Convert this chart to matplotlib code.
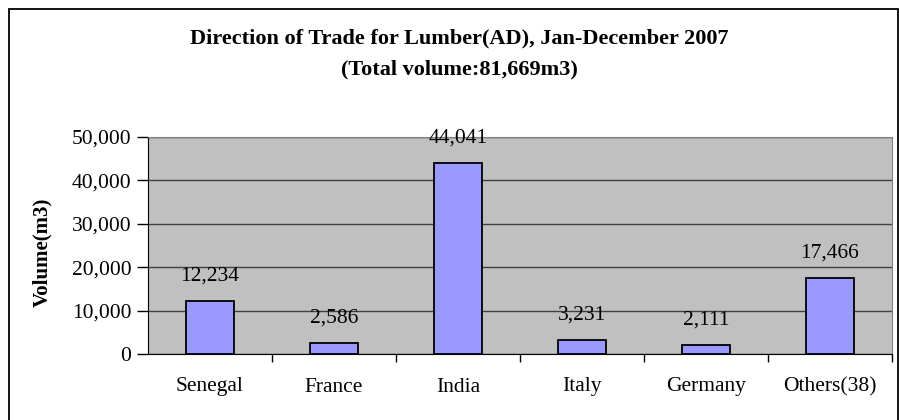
import matplotlib
matplotlib.use("Agg")
import matplotlib.pyplot as plt
from matplotlib.patches import Rectangle

plt.rcParams['font.family'] = ['Liberation Serif', 'DejaVu Serif']

categories = ['Senegal', 'France', 'India', 'Italy', 'Germany', 'Others(38)']
volumes = [12234, 2586, 44041, 3231, 2111, 17466]
yticks = [0, 10000, 20000, 30000, 40000, 50000]

W, H = 899, 420
fig = plt.figure(figsize=(W / 100, H / 100), dpi=100)
ax = fig.add_axes([148 / W, (H - 354) / H, 744 / W, 217 / H])

ax.set_facecolor('#C0C0C0')
x = range(len(categories))
ax.bar(x, volumes, width=0.39, color='#9999FF', edgecolor='black', linewidth=1.3, zorder=3)

for i, v in enumerate(volumes):
    ax.annotate(f'{v:,}', (i, v), xytext=(0, 18), textcoords='offset points',
                ha='center', va='center', fontsize=15.5, zorder=4)

ax.set_xlim(-0.5, len(categories) - 0.5)
ax.set_ylim(0, 50000)
ax.set_yticks(yticks)
ax.set_yticklabels([f'{t:,}' for t in yticks], fontsize=15.5)
ax.yaxis.grid(True, color='#404040', linewidth=1.0, zorder=1)
ax.set_axisbelow(True)

# category labels sit between the tick marks
ax.set_xticks([i + 0.5 for i in range(len(categories))])
ax.set_xticklabels([])
ax.tick_params(axis='x', length=6, direction='out', width=1)
ax.tick_params(axis='y', length=8, direction='out', width=1, pad=4)
for i, c in enumerate(categories):
    ax.text(i, -33 / 217, c, transform=ax.get_xaxis_transform(), ha='center', va='center', fontsize=15.5)

ax.set_ylabel('Volume(m3)', fontsize=15, fontweight='bold', va='center')
ax.yaxis.set_label_coords((42 - 148) / 744, 0.47)

for s in ['top', 'right']:
    ax.spines[s].set_color('#808080')
ax.spines['left'].set_color('black')
ax.spines['bottom'].set_color('black')

fig.text(459.5 / W, 1 - 38 / H, 'Direction of Trade for Lumber(AD), Jan-December 2007',
         ha='center', va='center', fontsize=16, fontweight='bold')
fig.text(459.5 / W, 1 - 69 / H, '(Total volume:81,669m3)',
         ha='center', va='center', fontsize=16, fontweight='bold')

# outer chart frame (bottom edge falls outside the picture)
fig.patches.append(Rectangle((8.5 / W, -10 / H), 889 / W, (H - 9 + 10) / H, transform=fig.transFigure,
                             fill=False, edgecolor='black', linewidth=1.3))

fig.savefig('out.png', dpi=100)
